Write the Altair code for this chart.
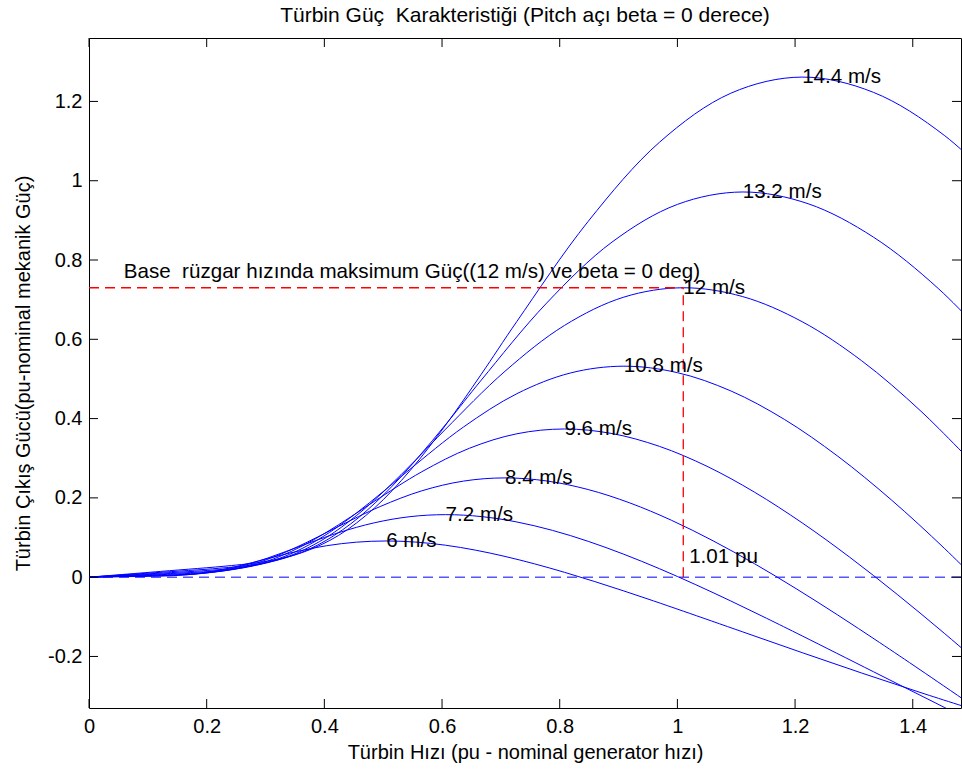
import altair as alt
import pandas as pd

FONT = "Liberation Sans"
BLUE = "#0000ff"
RED = "#ff0000"

speeds = ["6 m/s", "7.2 m/s", "8.4 m/s", "9.6 m/s", "10.8 m/s", "12 m/s", "13.2 m/s", "14.4 m/s"]

x_6 = [0, 0.0505, 0.101, 0.1263, 0.1515, 0.1768, 0.202, 0.2273, 0.2525, 0.2778, 0.303, 0.3535, 0.404, 0.4545,
       0.505, 0.5555, 0.606, 0.6565, 0.707, 0.7575, 0.808, 0.8585, 0.909, 0.9595, 1.01, 1.111, 1.212, 1.313,
       1.414, 1.515]
y_6 = [0, 0.0011, 0.0021, 0.0029, 0.0045, 0.0076, 0.0126, 0.0194, 0.0277, 0.0370, 0.0467, 0.0649, 0.0794, 0.0883,
       0.0913, 0.0885, 0.0806, 0.0683, 0.0523, 0.0335, 0.0123, -0.0106, -0.0348, -0.0599, -0.0857, -0.1380,
       -0.1904, -0.2417, -0.2914, -0.3393]

x_72 = [0, 0.0606, 0.1212, 0.1515, 0.1818, 0.2121, 0.2424, 0.2727, 0.303, 0.3333, 0.3636, 0.4242, 0.4848, 0.5454,
        0.606, 0.6666, 0.7272, 0.7878, 0.8484, 0.909, 0.9696, 1.0302, 1.0908, 1.1514, 1.212, 1.3332, 1.4544, 1.5756]
y_72 = [0, 0.0018, 0.0037, 0.0051, 0.0078, 0.0132, 0.0218, 0.0335, 0.0479, 0.0640, 0.0806, 0.1122, 0.1371, 0.1526,
        0.1577, 0.1529, 0.1392, 0.1180, 0.0904, 0.0578, 0.0213, -0.0183, -0.0601, -0.1036, -0.1481, -0.2385,
        -0.3290, -0.4176]

x_84 = [0, 0.0707, 0.1414, 0.1768, 0.2121, 0.2475, 0.2828, 0.3182, 0.3535, 0.3889, 0.4242, 0.4949, 0.5656, 0.6363,
        0.707, 0.7777, 0.8484, 0.9191, 0.9898, 1.0605, 1.1312, 1.2019, 1.2726, 1.3433, 1.414, 1.5554]
y_84 = [0, 0.0029, 0.0058, 0.0080, 0.0125, 0.0209, 0.0345, 0.0533, 0.0761, 0.1016, 0.1280, 0.1782, 0.2178, 0.2423,
        0.2504, 0.2427, 0.2210, 0.1873, 0.1436, 0.0918, 0.0338, -0.0291, -0.0955, -0.1645, -0.2351, -0.3787]

x_96 = [0, 0.0808, 0.1616, 0.202, 0.2424, 0.2828, 0.3232, 0.3636, 0.404, 0.4444, 0.4848, 0.5656, 0.6464, 0.7272,
        0.808, 0.8888, 0.9696, 1.0504, 1.1312, 1.212, 1.2928, 1.3736, 1.4544, 1.5352]
y_96 = [0, 0.0043, 0.0087, 0.0120, 0.0186, 0.0312, 0.0516, 0.0795, 0.1136, 0.1516, 0.1911, 0.2659, 0.3251, 0.3617,
        0.3738, 0.3623, 0.3299, 0.2796, 0.2143, 0.1370, 0.0504, -0.0434, -0.1425, -0.2455]

x_108 = [0, 0.0909, 0.1818, 0.2273, 0.2727, 0.3182, 0.3636, 0.4091, 0.4545, 0.5, 0.5454, 0.6363, 0.7272, 0.8181,
         0.909, 0.9999, 1.0908, 1.1817, 1.2726, 1.3635, 1.4544, 1.5453]
y_108 = [0, 0.0061, 0.0124, 0.0171, 0.0265, 0.0445, 0.0734, 0.1132, 0.1618, 0.2159, 0.2721, 0.3786, 0.4628, 0.5150,
         0.5322, 0.5159, 0.4698, 0.3981, 0.3051, 0.1951, 0.0718, -0.0618]

x_12 = [0, 0.101, 0.202, 0.2525, 0.303, 0.3535, 0.404, 0.4545, 0.505, 0.5555, 0.606, 0.707, 0.808, 0.909, 1.01,
        1.111, 1.212, 1.313, 1.414, 1.515]
y_12 = [0, 0.0084, 0.0170, 0.0234, 0.0363, 0.0610, 0.1007, 0.1553, 0.2219, 0.2961, 0.3733, 0.5194, 0.6349, 0.7064,
        0.7300, 0.7077, 0.6444, 0.5461, 0.4185, 0.2676]

x_132 = [0, 0.1111, 0.2222, 0.2778, 0.3333, 0.3889, 0.4444, 0.5, 0.5555, 0.6111, 0.6666, 0.7777, 0.8888, 0.9999,
         1.111, 1.2221, 1.3332, 1.4443, 1.5554]
y_132 = [0, 0.0112, 0.0226, 0.0311, 0.0483, 0.0812, 0.1340, 0.2067, 0.2954, 0.3941, 0.4969, 0.6913, 0.8451, 0.9402,
         0.9716, 0.9420, 0.8577, 0.7269, 0.5570]

x_144 = [0, 0.1212, 0.2424, 0.303, 0.3636, 0.4242, 0.4848, 0.5454, 0.606, 0.6666, 0.7272, 0.8484, 0.9696, 1.0908,
         1.212, 1.3332, 1.4544, 1.5756]
y_144 = [0, 0.0145, 0.0294, 0.0404, 0.0627, 0.1054, 0.1740, 0.2684, 0.3834, 0.5117, 0.6451, 0.8975, 1.0971, 1.2207,
         1.2614, 1.2229, 1.1135, 0.9437]

label_x = [0.505, 0.606, 0.707, 0.808, 0.909, 1.01, 1.111, 1.212]
label_y = [0.0913, 0.1577, 0.2504, 0.3738, 0.5322, 0.73, 0.9716, 1.2614]

base_speed = 1.01
base_power = 0.73
base_text = "Base \u00a0rüzgar hızında maksimum Güç((12 m/s) ve beta = 0 deg)"
base_text_x = 0.059
base_text_y = 0.77
pu_text = "1.01 pu"
pu_text_x = 1.02
pu_text_y = 0.052

x_ticks = [0, 0.2, 0.4, 0.6, 0.8, 1.0, 1.2, 1.4]
y_ticks = [-0.2, 0, 0.2, 0.4, 0.6, 0.8, 1.0, 1.2]

title_text = "Türbin Güç\u00a0 Karakteristiği (Pitch açı beta = 0 derece)"
x_title = "Türbin Hızı (pu - nominal generator hızı)"
y_title = "Türbin Çıkış Gücü(pu-nominal mekanik Güç)"

W, H = 872, 670
TXT = 20.6

rows = []
for name, xs, ys in zip(speeds, [x_6, x_72, x_84, x_96, x_108, x_12, x_132, x_144],
                        [y_6, y_72, y_84, y_96, y_108, y_12, y_132, y_144]):
    for a, b in zip(xs, ys):
        rows.append({"speed": name, "w": a, "p": b})
df = pd.DataFrame(rows)

labels_df = pd.DataFrame({"w": label_x, "p": label_y, "t": speeds})
notes_df = pd.DataFrame({"w": [base_text_x, pu_text_x], "p": [base_text_y, pu_text_y], "t": [base_text, pu_text]})
zero_df = pd.DataFrame({"p": [0]})
hred_df = pd.DataFrame({"w": [0], "w2": [base_speed], "p": [base_power]})
vred_df = pd.DataFrame({"w": [base_speed], "p": [0], "p2": [base_power]})
xt_df = pd.DataFrame({"w": x_ticks})
yt_df = pd.DataFrame({"p": y_ticks})

xscale = alt.Scale(domain=[0, 1.482], nice=False, zero=False)
yscale = alt.Scale(domain=[-0.33, 1.36], nice=False, zero=False)

lab_expr = "replace(datum.label, '\u2212', '-')"

x_axis = alt.Axis(values=x_ticks, format="~g", labelExpr=lab_expr, ticks=False, domain=False, grid=False,
                  labelFont=FONT, labelFontSize=20, labelColor="black", labelPadding=8, labelFlush=False,
                  title=x_title, titleFont=FONT, titleFontSize=20, titleFontWeight="normal",
                  titleColor="black", titlePadding=6)
y_axis = alt.Axis(values=y_ticks, format="~g", labelExpr=lab_expr, ticks=False, domain=False, grid=False,
                  labelFont=FONT, labelFontSize=20, labelColor="black", labelPadding=7, labelFlush=False,
                  title=y_title, titleFont=FONT, titleFontSize=20, titleFontWeight="normal",
                  titleColor="black", titlePadding=14)


def X(field):
    return alt.X(field, type="quantitative", scale=xscale, axis=x_axis)


def Y(field):
    return alt.Y(field, type="quantitative", scale=yscale, axis=y_axis)


lines = alt.Chart(df).mark_line(color=BLUE, strokeWidth=1, clip=True, interpolate="catmull-rom").encode(
    x=X("w"), y=Y("p"), detail="speed:N",
)

zero_line = alt.Chart(zero_df).mark_rule(color=BLUE, strokeWidth=1, strokeDash=[10, 6]).encode(y=Y("p"))

hred = alt.Chart(hred_df).mark_rule(color=RED, strokeWidth=1.3, strokeDash=[10, 6]).encode(
    x=X("w"), x2="w2", y=Y("p")
)
vred = alt.Chart(vred_df).mark_rule(color=RED, strokeWidth=1.3, strokeDash=[10, 6]).encode(
    x=X("w"), y=Y("p"), y2="p2"
)

tick_style = dict(color="black", strokeWidth=1)
t_bottom = alt.Chart(xt_df).mark_rule(**tick_style).encode(x=X("w"), y=alt.value(H), y2=alt.value(H - 9))
t_top = alt.Chart(xt_df).mark_rule(**tick_style).encode(x=X("w"), y=alt.value(0), y2=alt.value(9))
t_left = alt.Chart(yt_df).mark_rule(**tick_style).encode(y=Y("p"), x=alt.value(0), x2=alt.value(9))
t_right = alt.Chart(yt_df).mark_rule(**tick_style).encode(y=Y("p"), x=alt.value(W), x2=alt.value(W - 9))

speed_labels = alt.Chart(labels_df).mark_text(
    align="left", baseline="middle", font=FONT, fontSize=TXT, color="black"
).encode(x=X("w"), y=Y("p"), text="t:N")

notes = alt.Chart(notes_df).mark_text(
    align="left", baseline="middle", font=FONT, fontSize=TXT, color="black"
).encode(x=X("w"), y=Y("p"), text="t:N")

chart = alt.layer(
    lines, zero_line, hred, vred, t_bottom, t_top, t_left, t_right, speed_labels, notes
).properties(
    width=W, height=H,
    padding={"left": 89, "top": 38, "right": 1, "bottom": 63},
    autosize=alt.AutoSizeParams(type="none"),
    title=alt.TitleParams(text=title_text, font=FONT, fontSize=21, fontWeight="normal", color="black",
                          anchor="middle", offset=12),
    background="white",
).configure_view(stroke="black", strokeWidth=1)

chart.save("out.html", embed_options={"renderer": "svg", "actions": False})
